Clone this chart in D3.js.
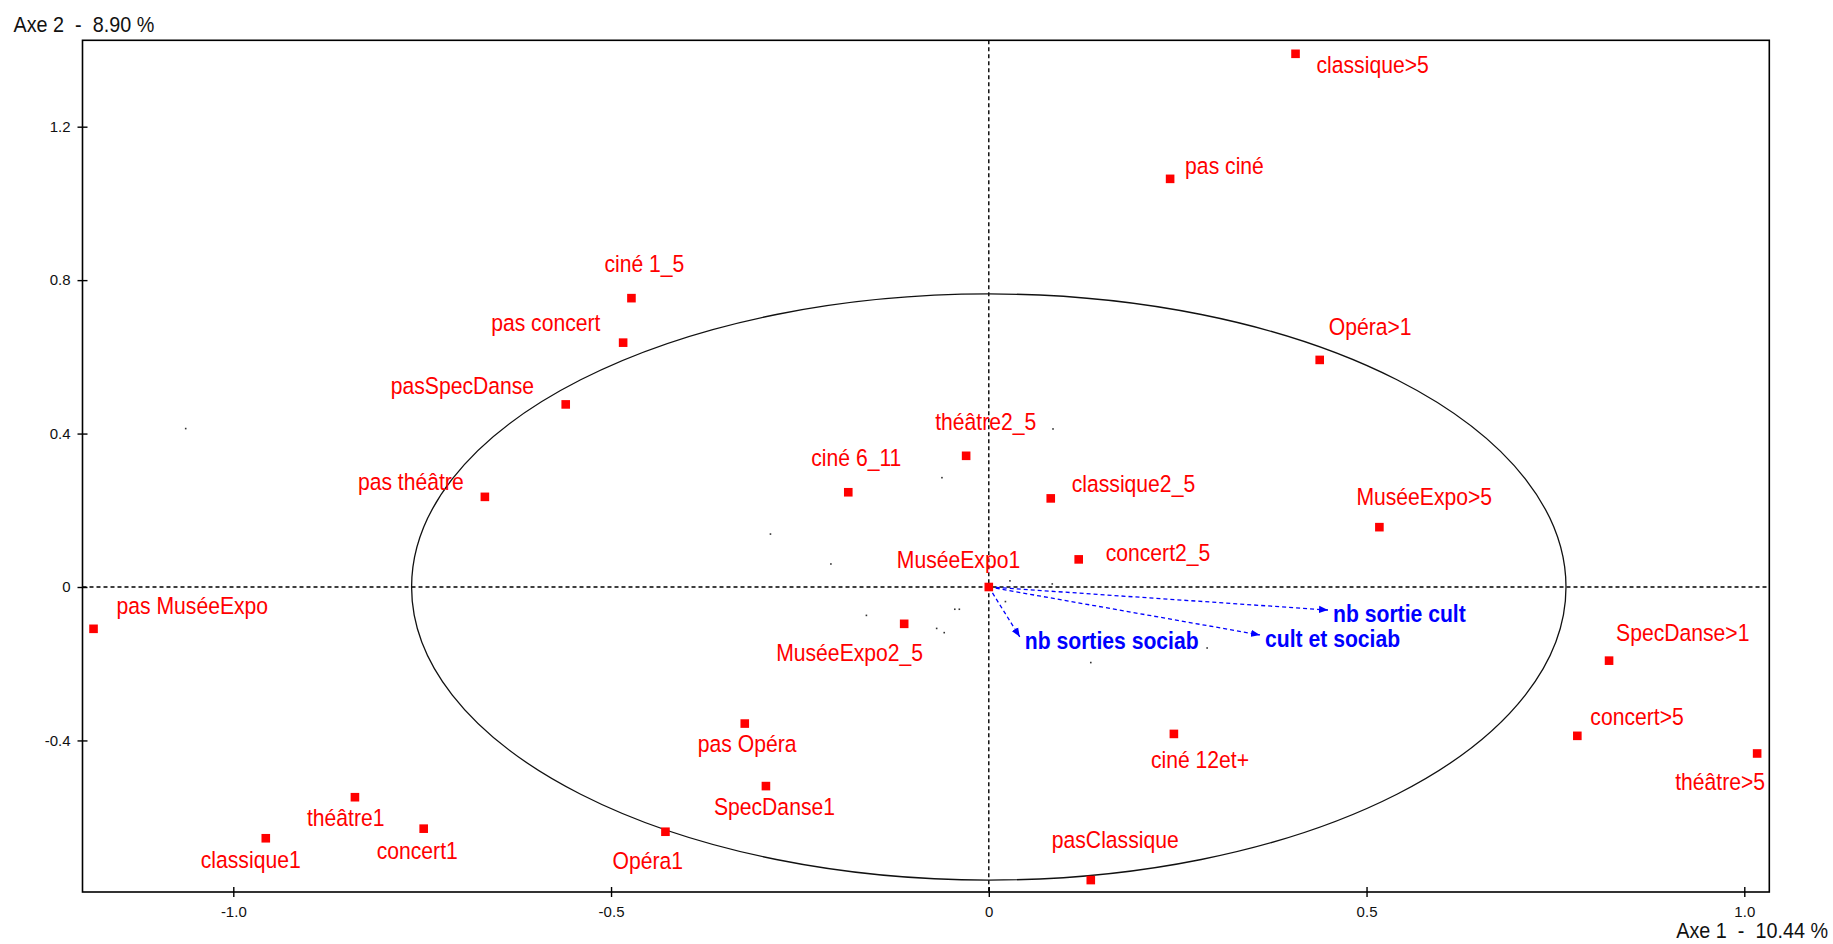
<!DOCTYPE html>
<html>
<head>
<meta charset="utf-8">
<script src="https://cdn.jsdelivr.net/npm/d3@7"></script>
<style>
  body { margin: 0; background: #fff; }
  svg { display: block; }
  text { font-family: "Liberation Sans", Arial, sans-serif; }
</style>
</head>
<body>
<div id="vis-acm"></div>
<script>
// Data ---------------------------------------------------------------------------------------------------------------
const categories = ["classique>5", "pas ciné", "ciné 1_5", "pas concert", "Opéra>1", "pasSpecDanse", "théâtre2_5",
  "ciné 6_11", "pas théâtre", "classique2_5", "MuséeExpo>5", "concert2_5", "MuséeExpo1", "pas MuséeExpo",
  "MuséeExpo2_5", "SpecDanse>1", "pas Opéra", "concert>5", "ciné 12et+", "théâtre>5", "SpecDanse1", "théâtre1",
  "concert1", "classique1", "Opéra1", "pasClassique"];
const axis1 = [0.406, 0.240, -0.473, -0.484, 0.438, -0.560, -0.030, -0.186, -0.667, 0.082, 0.517, 0.119, 0.000,
  -1.185, -0.112, 0.821, -0.323, 0.779, 0.245, 1.017, -0.295, -0.839, -0.748, -0.957, -0.428, 0.135];
const axis2 = [1.390, 1.064, 0.753, 0.637, 0.592, 0.476, 0.342, 0.247, 0.235, 0.231, 0.156, 0.072, 0.000,
  -0.109, -0.096, -0.192, -0.356, -0.388, -0.383, -0.434, -0.519, -0.548, -0.630, -0.655, -0.638, -0.764];

// supplementary variables (arrows)
const variables = ["nb sortie cult", "cult et sociab", "nb sorties sociab"];
const varAxis1 = [0.449, 0.359, 0.041];
const varAxis2 = [-0.060, -0.125, -0.130];

// individuals (tiny dots)
const dotAxis1 = [-1.063, 0.085, -0.062, -0.289, -0.209, 0.028, 0.084, 0.022, -0.045, -0.039, -0.162, -0.069,
  -0.059, 0.289, 0.135];
const dotAxis2 = [0.413, 0.412, 0.285, 0.138, 0.060, 0.016, 0.008, -0.038, -0.058, -0.058, -0.074, -0.108,
  -0.119, -0.159, -0.197];

const circleRadius = 0.764;
const xTicks = [-1.0, -0.5, 0, 0.5, 1.0];
const yTicks = [-0.4, 0, 0.4, 0.8, 1.2];
const xTitle = "Axe 1  -  10.44 %";
const yTitle = "Axe 2  -  8.90 %";

// Label placement (pixel offsets from the point) ---------------------------------------------------------------------
const labelDx = [21, 15, -27, -132, 9, -175, -31, -37, -127, 21, -23, 27, -92, 23, -128, 7, -47, 13, -23, -82,
  -52, -48, -47, -65, -53, -39];
const labelDy = [19, -5, -26, -12, -25, -10, -26, -26, -7, -6, -22, 2, -19, -15, 37, -20, 28, -11, 34, 37, 29, 29,
  30, 30, 37, -32];

// Canvas -------------------------------------------------------------------------------------------------------------
const canvasWidth = 1833;
const canvasHeight = 944;

const plotLeft = 82.5;
const plotRight = 1769.3;
const plotTop = 40.3;
const plotBottom = 892;

const labelFontSize = 23.5;
const narrow = 0.9;

const svg = d3.select("#vis-acm")
  .append("svg")
  .attr("width", canvasWidth)
  .attr("height", canvasHeight);

const xScale = d3.scaleLinear()
  .domain([-1.1996, 1.0331])
  .range([plotLeft, plotRight]);
const yScale = d3.scaleLinear()
  .domain([-0.7951, 1.4252])
  .range([plotBottom, plotTop]);

const fmt = d => d === 0 ? "0" : d.toFixed(1);

// Frame
svg.append("rect")
  .attr("x", plotLeft)
  .attr("y", plotTop)
  .attr("width", plotRight - plotLeft)
  .attr("height", plotBottom - plotTop)
  .attr("fill", "none")
  .attr("stroke", "#000")
  .attr("stroke-width", 1.6);

// Axes (ticks cross the frame)
const yAxis = svg.append("g")
  .attr("transform", "translate(" + (plotLeft + 5) + ",0)")
  .call(d3.axisLeft(yScale).tickValues(yTicks).tickFormat(fmt).tickSize(10).tickPadding(7));
const xAxis = svg.append("g")
  .attr("transform", "translate(0," + (plotBottom - 5) + ")")
  .call(d3.axisBottom(xScale).tickValues(xTicks).tickFormat(fmt).tickSize(10).tickPadding(9));
svg.selectAll(".domain").remove();
svg.selectAll(".tick line").attr("stroke", "#000").attr("stroke-width", 1.4);
svg.selectAll(".tick text")
  .style("font-size", "15px")
  .style("font-family", "'Liberation Sans', Arial, sans-serif")
  .attr("fill", "#111");

// Axis titles
svg.append("text")
  .attr("transform", "translate(13.5,31.5) scale(" + narrow + ",1)")
  .attr("xml:space", "preserve")
  .style("white-space", "pre")
  .style("font-size", "22px")
  .attr("fill", "#111")
  .text(yTitle);
svg.append("text")
  .attr("transform", "translate(1828,938) scale(" + narrow + ",1)")
  .attr("text-anchor", "end")
  .attr("xml:space", "preserve")
  .style("white-space", "pre")
  .style("font-size", "22px")
  .attr("fill", "#111")
  .text(xTitle);

// Origin dashed lines
svg.append("line")
  .attr("x1", plotLeft).attr("x2", plotRight)
  .attr("y1", yScale(0)).attr("y2", yScale(0))
  .attr("stroke", "#000")
  .attr("stroke-width", 1.4)
  .attr("stroke-dasharray", "4,3");
svg.append("line")
  .attr("x1", xScale(0)).attr("x2", xScale(0))
  .attr("y1", plotTop).attr("y2", plotBottom)
  .attr("stroke", "#000")
  .attr("stroke-width", 1.4)
  .attr("stroke-dasharray", "4,3");

// Correlation circle
svg.append("ellipse")
  .attr("cx", xScale(0))
  .attr("cy", yScale(0))
  .attr("rx", xScale(circleRadius) - xScale(0))
  .attr("ry", yScale(0) - yScale(circleRadius))
  .attr("fill", "none")
  .attr("stroke", "#111")
  .attr("stroke-width", 1.3);

// Individuals
svg.append("g")
  .selectAll("rect")
  .data(d3.range(dotAxis1.length))
  .join("rect")
  .attr("x", i => xScale(dotAxis1[i]) - 0.8)
  .attr("y", i => yScale(dotAxis2[i]) - 0.8)
  .attr("width", 1.6)
  .attr("height", 1.6)
  .attr("fill", "#333");

// Arrows for supplementary variables
svg.append("defs")
  .append("marker")
  .attr("id", "arrowhead")
  .attr("markerUnits", "userSpaceOnUse")
  .attr("viewBox", "0 -4 9 8")
  .attr("refX", 9)
  .attr("refY", 0)
  .attr("markerWidth", 9)
  .attr("markerHeight", 8)
  .attr("orient", "auto")
  .append("path")
  .attr("d", "M0,-3.6L9,0L0,3.6Z")
  .attr("fill", "#0000ff");

const varGroup = svg.append("g");
varGroup.selectAll("line")
  .data(d3.range(variables.length))
  .join("line")
  .attr("x1", xScale(0))
  .attr("y1", yScale(0))
  .attr("x2", i => xScale(varAxis1[i]))
  .attr("y2", i => yScale(varAxis2[i]))
  .attr("stroke", "#0000ff")
  .attr("stroke-width", 1.3)
  .attr("stroke-dasharray", "4,3")
  .attr("marker-end", "url(#arrowhead)");
varGroup.selectAll("text")
  .data(d3.range(variables.length))
  .join("text")
  .attr("transform", i => "translate(" + (xScale(varAxis1[i]) + 5) + "," + (yScale(varAxis2[i]) + 12) +
    ") scale(" + narrow + ",1)")
  .style("font-size", labelFontSize + "px")
  .style("font-weight", "bold")
  .attr("fill", "#0000ff")
  .text(i => variables[i]);

// Categories
const catGroup = svg.append("g");
catGroup.selectAll("rect")
  .data(d3.range(categories.length))
  .join("rect")
  .attr("x", i => xScale(axis1[i]) - 4.3)
  .attr("y", i => yScale(axis2[i]) - 4.3)
  .attr("width", 8.6)
  .attr("height", 8.6)
  .attr("fill", "#ff0000");
catGroup.selectAll("text")
  .data(d3.range(categories.length))
  .join("text")
  .attr("transform", i => "translate(" + (xScale(axis1[i]) + labelDx[i]) + "," + (yScale(axis2[i]) + labelDy[i]) +
    ") scale(" + narrow + ",1)")
  .style("font-size", labelFontSize + "px")
  .attr("fill", "#ff0000")
  .text(i => categories[i]);
</script>
</body>
</html>
